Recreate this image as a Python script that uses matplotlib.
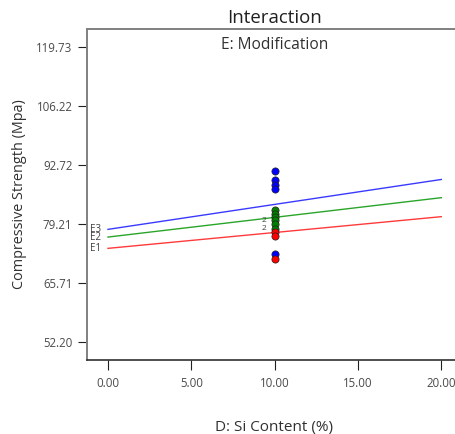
import matplotlib
matplotlib.use("Agg")
import matplotlib.pyplot as plt

plt.rcParams['font.family'] = ['Open Sans', 'DejaVu Sans']

# Factor levels and fitted interaction lines (D at 0 and 20 %)
si_content = [0.0, 20.0]
levels = ["E1", "E2", "E3"]
line_colors = {"E1": "#ff3a3a", "E2": "#2aa52a", "E3": "#3a3aff"}
fit_E1 = [73.66, 80.90]
fit_E2 = [76.24, 85.24]
fit_E3 = [78.00, 89.40]

# Design points measured at D = 10 %
design_x = 10.0
obs_E3 = [91.24, 89.19, 88.16, 87.13, 72.41]
obs_E2 = [82.34, 81.54, 80.74, 80.05, 79.14, 78.16]
obs_E1 = [77.32, 76.40, 71.26]
# replicated points (value, count)
replicates = [(80.05, 2), (78.16, 2)]

point_colors = {"E1": "#ff0000", "E2": "#008000", "E3": "#0000ff"}

yticks = [52.20, 65.71, 79.21, 92.72, 106.22, 119.73]
xticks = [0, 5, 10, 15, 20]

W, H = 456, 434
fig = plt.figure(figsize=(W / 100, H / 100), dpi=100)
ax = fig.add_axes([87 / W, 1 - 360 / H, 375 / W, 331 / H])

fits = {"E1": fit_E1, "E2": fit_E2, "E3": fit_E3}
for lv in levels:
    ax.plot(si_content, fits[lv], color=line_colors[lv], lw=1.0, zorder=2)
    ax.annotate(lv, (si_content[0], fits[lv][0]), xytext=(-5, 0),
                textcoords="offset points", ha="right", va="center",
                fontsize=7, color="#404040")

obs = {"E1": obs_E1, "E2": obs_E2, "E3": obs_E3}
for lv in ["E3", "E2", "E1"]:
    ax.plot([design_x] * len(obs[lv]), obs[lv], ls="none", marker="o",
            ms=5.2, mfc=point_colors[lv], mec="#202020", mew=0.5, zorder=3)

for val, n in replicates:
    ax.annotate(str(n), (design_x, val), xytext=(-7.5, 0),
                textcoords="offset points", ha="center", va="center",
                fontsize=6, color="#404040")

ax.set_xlim(-1.26, 21.24)
ax.set_ylim(48.15, 123.78)
ax.set_xticks(xticks)
ax.set_xticklabels([f"{v:.2f}" for v in xticks])
ax.set_yticks(yticks)
ax.set_yticklabels([f"{v:.2f}" for v in yticks])

ax.tick_params(axis="both", direction="out", width=0.8, color="#202020",
               labelsize=8.3, labelcolor="#4a4a4a")
ax.tick_params(axis="y", length=6.5, pad=4)
ax.tick_params(axis="x", length=7, pad=5)

for side in ["left", "top"]:
    ax.spines[side].set_color("#808080")
    ax.spines[side].set_linewidth(1.4)
ax.spines["right"].set_visible(False)
ax.spines["bottom"].set_color("#303030")
ax.spines["bottom"].set_linewidth(1.2)

ax_cx = (87 + 462) / 2 / W
fig.text(ax_cx, 1 - 22.7 / H, "Interaction", ha="center", va="baseline",
         fontsize=13.4, color="#202020")
fig.text(ax_cx, 1 - 49.3 / H, "E: Modification", ha="center",
         va="baseline", fontsize=11.2, color="#303030")
fig.text(ax_cx, 1 - 431 / H, "D: Si Content (%)", ha="center",
         va="baseline", fontsize=11, color="#303030")
fig.text(20 / W, 1 - 194.5 / H, "Compressive Strength (Mpa)", ha="center",
         va="center", rotation=90, fontsize=10.4, color="#303030")

fig.savefig("out.png", dpi=100)
